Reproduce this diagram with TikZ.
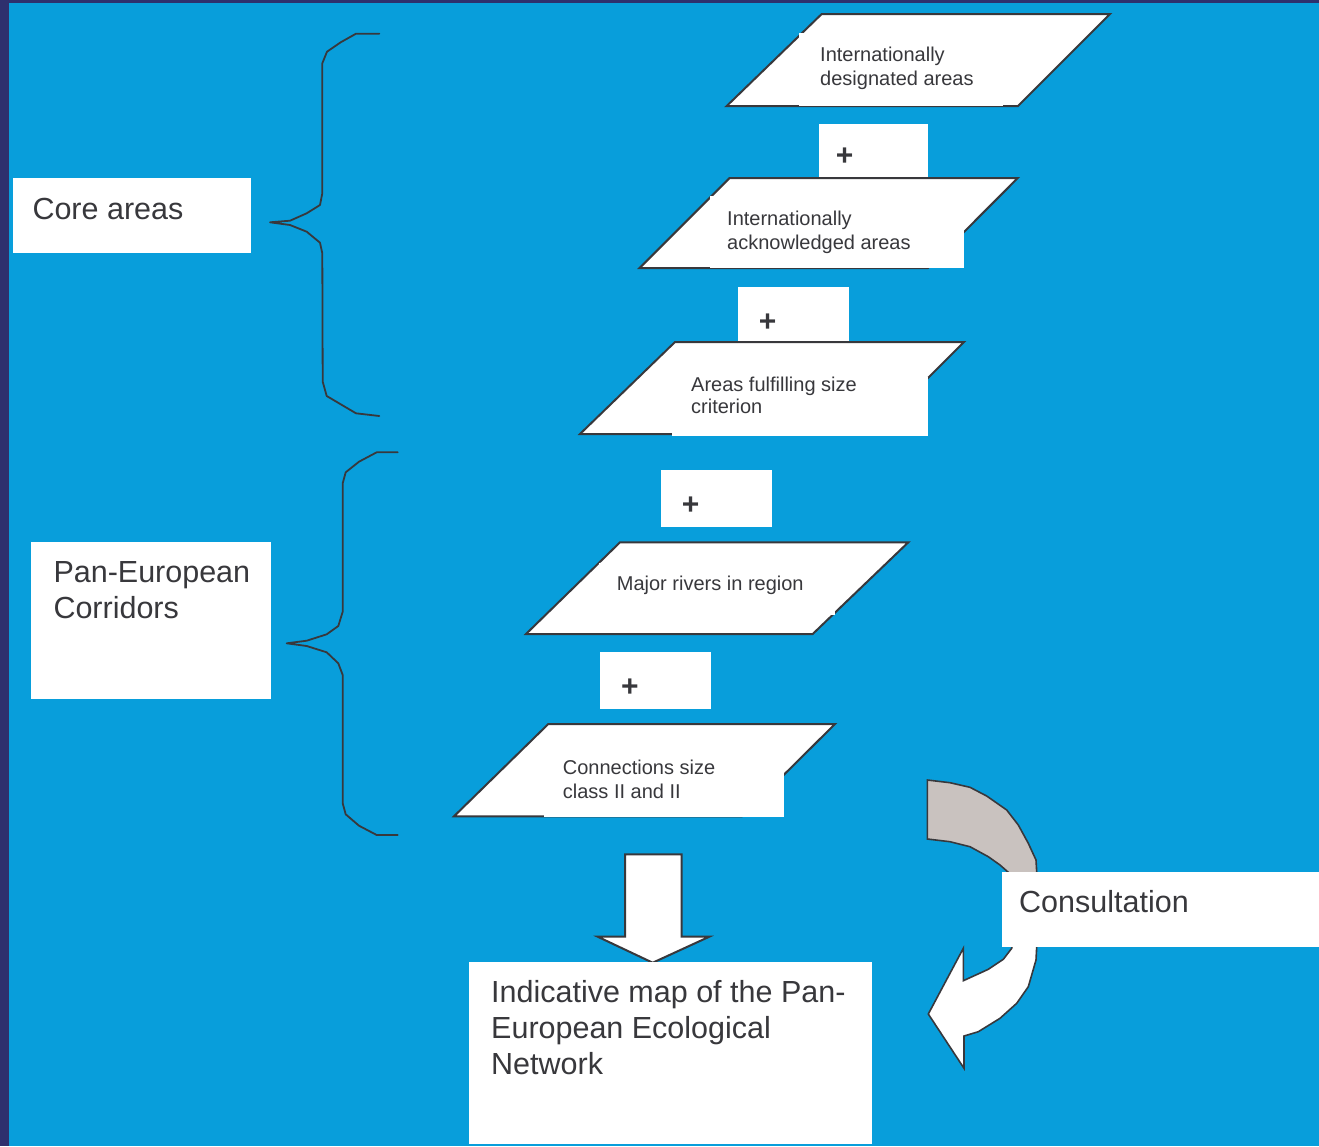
\documentclass[tikz,border=0pt]{standalone}
\usepackage{fontspec}
\setmainfont{Liberation Sans}
\definecolor{bgblue}{HTML}{089EDB}
\definecolor{navy}{HTML}{2E306E}
\definecolor{ink}{HTML}{38383C}
\definecolor{arrowgray}{HTML}{C9C2BF}
\begin{document}
\begin{tikzpicture}[x=1pt,y=-1pt,
  frameshape/.style={draw=ink, line width=2pt, fill=white, line join=miter},
  whitebox/.style={fill=white},
  braceline/.style={draw=ink, line width=1.8pt, line join=round, line cap=round},
  smalltxt/.style={font=\fontsize{20}{24}\selectfont, text=ink, inner sep=0pt, anchor=north west, align=left},
  bigtxt/.style={font=\fontsize{30.5}{36}\selectfont, text=ink, inner sep=0pt, anchor=north west, align=left},
  plustxt/.style={font=\fontsize{30}{30}\selectfont\bfseries, text=ink, inner sep=0pt}]
% background
\fill[navy] (0,0) rectangle (1319,1146);
\fill[bgblue] (8.5,3) rectangle (1319,1146);
\useasboundingbox (0,0) rectangle (1319,1146);

% ---- parallelogram 1
\path[frameshape] (821.7,14) -- (1110,14) -- (1018,106) -- (726.7,106) -- cycle;
\fill[whitebox] (799,33) rectangle (1003,106);
\node[smalltxt] (p1) at (820,47.3) {Internationally\\designated areas};

% plus 1
\fill[whitebox] (819,124) rectangle (928,178);
\node[plustxt] (plus1) at (844.5,156.5) {+};

% ---- parallelogram 2
\path[frameshape] (729.6,178) -- (1017.8,178) -- (928,268) -- (639.6,268) -- cycle;
\fill[whitebox] (710,196) rectangle (963.7,268.3);
\node[smalltxt] (p2) at (727,211.3) {Internationally\\acknowledged areas};

% plus 2
\fill[whitebox] (738,287) rectangle (848.7,342);
\node[plustxt] (plus2) at (767.5,323) {+};

% ---- parallelogram 3
\path[frameshape] (675,342) -- (964,342) -- (872,434) -- (580,434) -- cycle;
\fill[whitebox] (671.7,376.7) rectangle (927.7,435.5);
\node[smalltxt, font=\fontsize{20}{21.5}\selectfont] (p3) at (691,377.3) {Areas fulfilling size\\criterion};

% plus 3
\fill[whitebox] (661,470) rectangle (772,527);
\node[plustxt] (plus3) at (690.5,505.5) {+};

% ---- parallelogram 4
\path[frameshape] (620,542.3) -- (908.3,542.3) -- (812.7,634) -- (526,634) -- cycle;
\fill[whitebox] (598.5,563.3) rectangle (835,615);
\node[smalltxt] (p4) at (616.7,575.6) {Major rivers in region};

% plus 4
\fill[whitebox] (600,652) rectangle (711,709);
\node[plustxt] (plus4) at (630,687.5) {+};

% ---- parallelogram 5
\path[frameshape] (548.3,724) -- (835,724) -- (742,816.3) -- (454,816.3) -- cycle;
\fill[whitebox] (544,772.7) rectangle (784,817);
\node[smalltxt] (p5) at (562.7,759.6) {Connections size\\class II and II};

% ---- left labels
\fill[whitebox] (12.7,178.3) rectangle (250.7,252.7);
\node[bigtxt] (core) at (32.3,198) {Core areas};

\fill[whitebox] (31,542.3) rectangle (270.7,699.3);
\node[bigtxt] (pan) at (53.3,561.3) {Pan-European\\Corridors};

% ---- braces
\draw[braceline] (379.3,33.7) -- (356,33.7) -- (340.7,42.3) -- (327,51.7) -- (322.3,63.3)
  -- (322.3,193.3) -- (320,205) -- (306.7,213.3) -- (290,220.7) -- (270,222.3)
  -- (290,225) -- (306.7,231.7) -- (320,242.7) -- (322.3,253.3)
  -- (322.7,381.7) -- (326.7,396) -- (356,413.3) -- (379.3,416);

\draw[braceline] (397.7,452.3) -- (376.7,452.3) -- (359,461.7) -- (345.7,472.3) -- (342.7,483.3)
  -- (342.7,611.7) -- (338.3,626) -- (326.7,634.3) -- (306.7,640.7) -- (286.7,643.3)
  -- (306.7,646) -- (326.7,652.3) -- (338.3,663.3) -- (342.7,675)
  -- (342.7,803.3) -- (345.7,814.3) -- (359,825.7) -- (376.7,835) -- (397.7,835);

% ---- down arrow
\path[frameshape] (625,854.3) -- (681.7,854.3) -- (681.7,936.7) -- (709.3,936.7)
  -- (652.7,962.7) -- (597.7,936.7) -- (625,936.7) -- cycle;

% ---- curved arrow (grey upper part)
\path[frameshape, fill=arrowgray, line width=1.6pt] (927.3,780) -- (950,782.7) -- (970,787.3) -- (986.7,796)
  -- (1006.7,810) -- (1018.3,825) -- (1028.3,843.3) -- (1036,860) -- (1036.7,872) -- (1037,885)
  -- (1012,885) -- (1008.3,872.3) -- (1000,865) -- (988.3,856.7) -- (970,846.7)
  -- (950,841.7) -- (927.3,839) -- cycle;
% curved arrow (white lower part)
\path[frameshape, line width=1.6pt] (1037,935) -- (1036.7,946.7) -- (1036,960) -- (1028.3,986.7)
  -- (1016.7,1003.3) -- (1000,1018.3) -- (978.3,1031.7) -- (964,1036) -- (964,1068.3)
  -- (928.3,1014) -- (963.3,948.3) -- (963.3,980.7) -- (988.3,969.3) -- (1003.3,959.3)
  -- (1011.7,948.3) -- (1014,935) -- cycle;

% ---- consultation box
\fill[whitebox] (1001.7,872.3) rectangle (1319,946.7);
\node[bigtxt] (consult) at (1019,889.7) {Consultation};

% ---- result box
\fill[whitebox] (469,962.3) rectangle (871.7,1144);
\node[bigtxt] (result) at (491,980) {Indicative map of the Pan-\\European Ecological\\Network};
\end{tikzpicture}
\end{document}
